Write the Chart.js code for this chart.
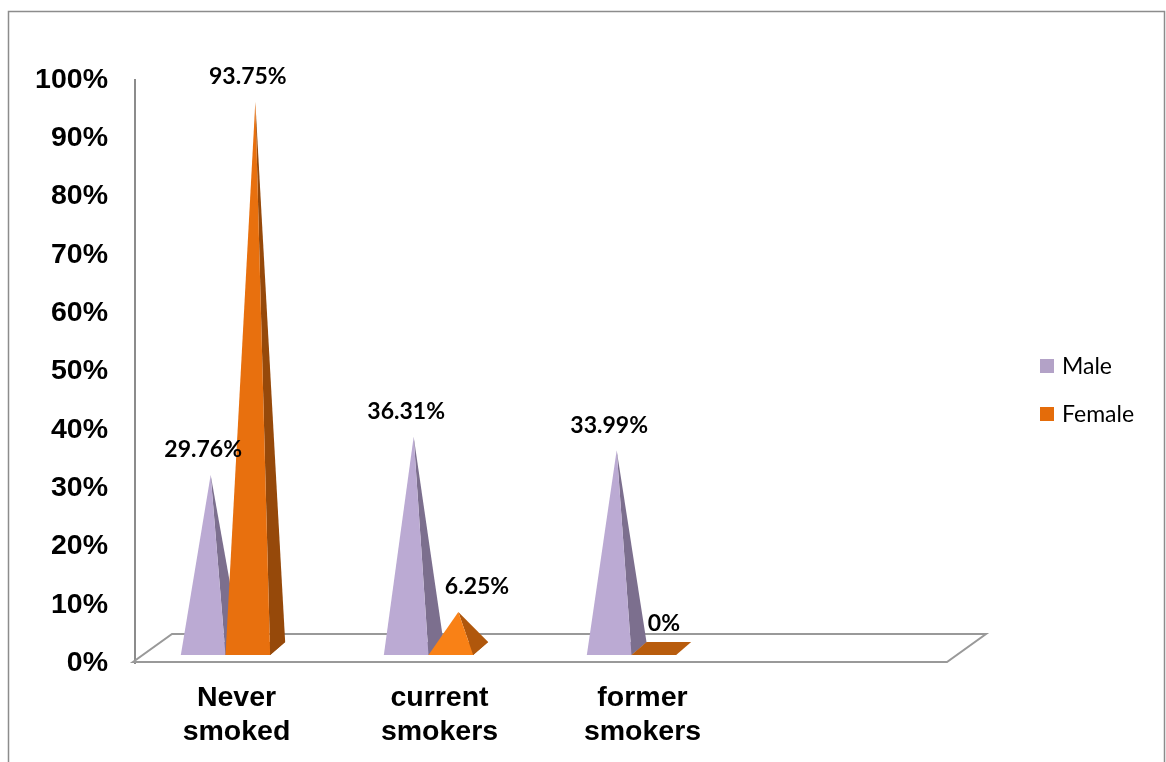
<!DOCTYPE html>
<html>
<head>
<meta charset="utf-8">
<title>Smoking status by gender</title>
<script src="https://cdn.jsdelivr.net/npm/chart.js@4.4.1/dist/chart.umd.min.js"></script>
<style>
  html, body { margin: 0; padding: 0; background: #ffffff; }
  canvas { display: block; }
</style>
</head>
<body>
<canvas id="chart" width="1166" height="762"></canvas>
<script>
// ---- data ----
const categories = [["Never", "smoked"], ["current", "smokers"], ["former", "smokers"], ""];
const seriesNames = ["Male", "Female"];
const maleValues = [29.76, 36.31, 33.99];
const femaleValues = [93.75, 6.25, 0];
const yTickLabels = ["0%", "10%", "20%", "30%", "40%", "50%", "60%", "70%", "80%", "90%", "100%"];

// ---- styling ----
const legendColors = ["#B3A2C7", "#E46C0A"];
const faceColors = [
  { face: "#BBAAD3", side: "#7C6F8E", faceLit: "#CDBFE2", sideLit: "#8E80A2" },
  { face: "#E8700E", side: "#96490A", faceLit: "#FF8619", sideLit: "#B85C0D" }
];
const AXIS_GREY = "#8c8c8c";
const DEPTH_DX = 15, DEPTH_DY = -13;   // pyramid base depth in the oblique view
const FRONT_SHIFT = -11;               // front face offset from the bar slot centre
const BASE_LIFT = 8;                   // base sits above the front floor edge
const FLOOR_DX = 39, FLOOR_DY = -28;   // floor depth

function hexToRgb(h) {
  const n = parseInt(h.slice(1), 16);
  return [(n >> 16) & 255, (n >> 8) & 255, n & 255];
}
function mix(a, b, t) {
  const A = hexToRgb(a), B = hexToRgb(b);
  const c = A.map((v, i) => Math.round(v + (B[i] - v) * t));
  return `rgb(${c[0]},${c[1]},${c[2]})`;
}
function poly(ctx, pts) {
  ctx.beginPath();
  ctx.moveTo(pts[0][0], pts[0][1]);
  for (let i = 1; i < pts.length; i++) ctx.lineTo(pts[i][0], pts[i][1]);
  ctx.closePath();
  ctx.fill();
}

// geometry of one pyramid, derived from a bar element and the y scale
function pyramidGeom(bar, value, yScale) {
  const cx = bar.x + FRONT_SHIFT;
  const half = bar.width / 2;
  const yBase = yScale.getPixelForValue(0) - BASE_LIFT;
  const yMid = yBase + DEPTH_DY / 2;
  const apexX = cx + DEPTH_DX / 2;
  const apexY = yScale.getPixelForValue(value) - 14.5;
  return { cx, xL: cx - half, xR: cx + half, yBase, yMid, apexX, apexY, h: yMid - apexY };
}

// floor, border and axis frame
const framePlugin = {
  id: "frame",
  beforeDraw(chart) {
    const ctx = chart.ctx;
    ctx.save();
    ctx.fillStyle = "#ffffff";
    ctx.fillRect(0, 0, chart.width, chart.height);
    ctx.strokeStyle = AXIS_GREY;
    ctx.lineWidth = 1.5;
    ctx.strokeRect(8.5, 11.5, chart.width - 10, chart.height + 40);
    ctx.restore();
  },
  beforeDatasetsDraw(chart) {
    const ctx = chart.ctx;
    const area = chart.chartArea;
    const y0 = chart.scales.y.getPixelForValue(0) - 1;
    ctx.save();
    ctx.strokeStyle = "#999999";
    ctx.lineWidth = 2;
    ctx.lineJoin = "miter";
    ctx.beginPath();
    ctx.moveTo(area.left - 2, y0);
    ctx.lineTo(area.right, y0);
    ctx.lineTo(area.right + FLOOR_DX, y0 + FLOOR_DY);
    ctx.lineTo(area.left - 2 + FLOOR_DX, y0 + FLOOR_DY);
    ctx.closePath();
    ctx.stroke();
    ctx.restore();
  }
};

// pyramids replace the plain bars
const pyramidPlugin = {
  id: "pyramids",
  beforeDatasetDraw() { return false; },
  afterDatasetsDraw(chart) {
    const ctx = chart.ctx;
    const yScale = chart.scales.y;
    ctx.save();
    chart.data.datasets.forEach((ds, di) => {
      const meta = chart.getDatasetMeta(di);
      const pal = faceColors[di];
      meta.data.forEach((bar, i) => {
        const v = ds.data[i];
        if (v == null) return;
        const g = pyramidGeom(bar, v, yScale);
        const t = Math.max(0, Math.min(1, 1 - g.h / 150));
        const face = mix(pal.face, pal.faceLit, t);
        const side = mix(pal.side, pal.sideLit, t);
        const b = [[g.xL, g.yBase], [g.xR, g.yBase], [g.xR + DEPTH_DX, g.yBase + DEPTH_DY], [g.xL + DEPTH_DX, g.yBase + DEPTH_DY]];
        ctx.fillStyle = side;
        poly(ctx, b);
        if (g.h > 2) {
          poly(ctx, [[g.xR, g.yBase], [g.xR + DEPTH_DX, g.yBase + DEPTH_DY], [g.apexX, g.apexY]]);
          ctx.fillStyle = face;
          poly(ctx, [[g.xL, g.yBase], [g.xR, g.yBase], [g.apexX, g.apexY]]);
        }
      });
    });

    // value labels
    ctx.fillStyle = "#000000";
    ctx.font = "bold 23px Lato, 'Open Sans', sans-serif";
    ctx.textBaseline = "middle";
    chart.data.datasets.forEach((ds, di) => {
      const meta = chart.getDatasetMeta(di);
      meta.data.forEach((bar, i) => {
        const v = ds.data[i];
        if (v == null) return;
        const g = pyramidGeom(bar, v, yScale);
        const text = v + "%";
        // a short pyramid next to a taller one keeps its label clear of the neighbour
        let tucked = false;
        if (di > 0) {
          const pv = chart.data.datasets[di - 1].data[i];
          if (pv != null && pv > v) tucked = true;
        }
        if (tucked) {
          ctx.textAlign = "left";
          ctx.fillText(text, g.cx - 6, g.apexY - 25);
        } else {
          ctx.textAlign = "center";
          ctx.fillText(text, g.cx, g.apexY - 25);
        }
      });
    });
    ctx.restore();
  }
};

// legend on the right
const legendPlugin = {
  id: "sideLegend",
  afterDraw(chart) {
    const ctx = chart.ctx;
    ctx.save();
    ctx.font = "23px Lato, 'Open Sans', sans-serif";
    ctx.textBaseline = "middle";
    ctx.textAlign = "left";
    const x = 1040, y0 = 366, step = 48;
    chart.data.datasets.forEach((ds, i) => {
      const y = y0 + i * step;
      ctx.fillStyle = legendColors[i];
      ctx.fillRect(x, y - 7, 14, 14);
      ctx.fillStyle = "#000000";
      ctx.fillText(ds.label, x + 22, y + 1);
    });
    ctx.restore();
  }
};

new Chart(document.getElementById("chart"), {
  type: "bar",
  data: {
    labels: categories,
    datasets: [
      { label: seriesNames[0], data: maleValues, backgroundColor: legendColors[0] },
      { label: seriesNames[1], data: femaleValues, backgroundColor: legendColors[1] }
    ]
  },
  options: {
    responsive: false,
    animation: false,
    devicePixelRatio: 1,
    categoryPercentage: 0.44,
    barPercentage: 1.0,
    layout: { padding: { left: 0, top: 80, right: 219, bottom: 0 } },
    plugins: {
      legend: { display: false },
      tooltip: { enabled: false },
      title: { display: false }
    },
    scales: {
      x: {
        grid: { display: false, drawTicks: false },
        border: { display: false },
        ticks: {
          autoSkip: false,
          maxRotation: 0,
          minRotation: 0,
          padding: 18,
          color: "#000000",
          font: { family: "'Liberation Sans', Arial, sans-serif", size: 28.5, weight: "bold", lineHeight: 1.2 }
        },
        afterFit(scale) { scale.height = 99; }
      },
      y: {
        min: 0,
        max: 100,
        grid: { display: false, drawTicks: false },
        border: { display: true, color: AXIS_GREY, width: 2 },
        ticks: {
          stepSize: 10,
          padding: 27,
          color: "#000000",
          font: { family: "'Liberation Sans', Arial, sans-serif", size: 28.5, weight: "bold" },
          callback: (value, index) => yTickLabels[index]
        },
        afterFit(scale) { scale.width = 135; }
      }
    }
  },
  plugins: [framePlugin, pyramidPlugin, legendPlugin]
});
</script>
</body>
</html>
